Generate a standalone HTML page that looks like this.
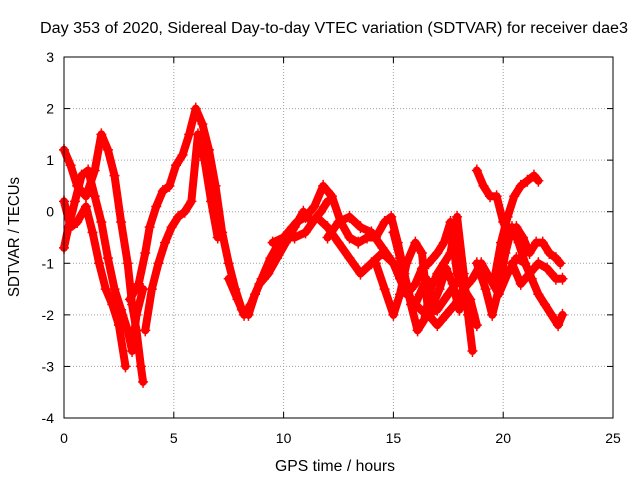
<!DOCTYPE html>
<html><head><meta charset="utf-8"><style>
body{margin:0;background:#fff}
svg{display:block;font-family:"Liberation Sans",sans-serif;font-size:14px}
</style></head><body>
<svg width="640" height="480">
<g id="grid"></g>
<g id="axes"></g>
<g id="marks"></g>
<rect x="64" y="57" width="549" height="361" fill="none" stroke="#000"/>
<text x="334" y="33" text-anchor="middle" font-size="15.5" textLength="588" lengthAdjust="spacingAndGlyphs">Day 353 of 2020, Sidereal Day-to-day VTEC variation (SDTVAR) for receiver dae3</text>
<text x="335" y="471" text-anchor="middle" font-size="15.5" textLength="120" lengthAdjust="spacingAndGlyphs">GPS time / hours</text>
<text x="19" y="237" text-anchor="middle" font-size="15.5" textLength="120" lengthAdjust="spacingAndGlyphs" transform="rotate(-90 19 237)">SDTVAR / TECUs</text>
</svg>
<script>
const xTicks=[0,5,10,15,20,25];
const yTicks=[3,2,1,0,-1,-2,-3,-4];
const traceA=[[0,1.2],[0.3,0.9],[0.6,0.5],[1.0,0.3],[1.4,0.8],[1.7,1.5],[2.0,1.2],[2.3,0.7],[2.6,-0.2],[2.9,-1.0],[3.1,-1.8],[3.3,-2.3],[3.5,-3.0],[3.6,-3.3]];
const traceB=[[0,-0.7],[0.2,-0.3],[0.5,0.2],[0.8,0.7],[1.1,0.8],[1.4,0.3],[1.7,-0.2],[2.0,-0.9],[2.3,-1.5],[2.6,-1.9],[2.9,-2.3],[3.1,-2.7],[3.3,-2.0],[3.6,-1.5]];
const traceC=[[0,0.2],[0.3,-0.3],[0.6,-0.2],[1.0,0.1],[1.3,-0.4],[1.6,-1.0],[1.9,-1.5],[2.2,-1.8],[2.5,-2.2],[2.8,-3.0]];
const traceD=[[3.0,-1.7],[3.4,-1.4],[3.7,-0.8],[3.9,-0.3],[4.2,0.1],[4.5,0.4],[4.8,0.5],[5.1,0.9],[5.4,1.1],[5.7,1.5],[6.0,2.0],[6.3,1.7],[6.6,1.2],[6.9,0.5],[7.2,-0.4],[7.5,-1.0],[7.8,-1.5],[8.1,-1.9],[8.4,-2.0],[8.7,-1.6],[9.0,-1.3],[9.4,-0.9],[9.8,-0.6],[10.2,-0.4],[10.6,-0.2],[11.0,-0.1],[11.4,0.1],[11.8,0.5],[12.2,0.3],[12.6,-0.2],[13.0,-0.5],[13.4,-0.6],[13.8,-0.5],[14.2,-0.5],[14.6,-0.2],[14.9,-0.1],[15.2,-0.6],[15.5,-1.2],[15.8,-1.8],[16.1,-2.3],[16.4,-2.1],[16.7,-1.5],[17.0,-1.2],[17.3,-1.0],[17.6,-0.8],[17.9,-0.1],[18.2,-1.2],[18.4,-2.0],[18.6,-2.7]];
const traceE=[[3.7,-2.3],[4.0,-1.5],[4.3,-1.0],[4.6,-0.6],[4.9,-0.3],[5.2,-0.1],[5.5,0.0],[5.8,0.2],[6.1,1.5],[6.4,1.0],[6.7,0.2],[7.0,-0.5]];
const traceG=[[7.5,-1.3],[7.9,-1.7],[8.2,-2.0],[8.5,-1.8],[8.9,-1.4],[9.3,-1.2],[9.7,-0.9],[10.1,-0.6],[10.5,-0.3],[10.9,0.0],[11.3,-0.2],[11.7,0.0],[12.0,0.2]];
const traceH=[[9.5,-0.6],[10.0,-0.5],[10.5,-0.5],[11.0,-0.4],[11.5,-0.1],[12.0,-0.3],[12.5,-0.6],[13.0,-0.9],[13.5,-1.2],[14.0,-1.0],[14.5,-0.8],[15.0,-1.0],[15.5,-1.5],[16.0,-1.8],[16.5,-2.0],[17.0,-1.9],[17.5,-1.6],[18.0,-1.3]];
const traceI=[[12.0,-0.5],[12.5,-0.2],[13.0,-0.1],[13.5,-0.3],[14.0,-0.4],[14.5,-0.7],[15.0,-1.0],[15.3,-1.3],[15.6,-1.6],[16.0,-1.4],[16.3,-1.1],[16.6,-1.0],[17.0,-0.8],[17.3,-0.6],[17.6,-0.2],[17.9,-1.2],[18.2,-1.5],[18.5,-1.7],[18.8,-2.2]];
const traceJ=[[14.2,-1.0],[14.6,-1.5],[15.0,-2.0],[15.3,-1.6],[15.6,-1.0],[16.0,-0.6],[16.3,-0.8],[16.6,-2.0],[17.0,-2.2],[17.4,-2.0],[17.8,-1.8],[18.2,-1.5],[18.6,-1.3],[19.0,-1.0],[19.4,-1.3],[19.8,-1.6],[20.2,-1.2],[20.6,-0.9],[21.0,-1.0]];
const traceK=[[18.8,0.8],[19.1,0.5],[19.4,0.3],[19.7,0.3],[20.0,-0.2],[20.3,-0.5],[20.6,-0.3],[20.9,-0.5],[21.2,-0.8],[21.5,-0.6],[21.8,-0.6],[22.1,-0.8],[22.4,-0.9],[22.6,-1.0]];
const traceL=[[19.6,-1.3],[19.9,-0.6],[20.2,-0.1],[20.5,0.3],[20.8,0.5],[21.1,0.6],[21.4,0.7],[21.6,0.6]];
const traceM=[[18.8,-1.0],[19.2,-1.5],[19.5,-2.0],[19.8,-1.5],[20.1,-0.8],[20.4,-0.3],[20.7,-0.6],[21.0,-1.0],[21.3,-1.3],[21.6,-1.6],[21.9,-1.8],[22.2,-2.0],[22.5,-2.2],[22.7,-2.0]];
const traceN=[[20.4,-1.0],[20.8,-1.4],[21.2,-1.2],[21.6,-1.0],[22.0,-1.1],[22.4,-1.3],[22.7,-1.3]];
const traceO=[[15.0,-0.4],[15.3,-0.9],[15.6,-1.4],[15.9,-1.9],[16.2,-1.6],[16.5,-1.3],[16.8,-1.8],[17.1,-1.5],[17.4,-1.1],[17.7,-1.4],[18.0,-1.9],[18.3,-1.6]];
const traces=[traceA,traceB,traceC,traceD,traceE,traceG,traceH,traceI,traceJ,traceK,traceL,traceM,traceN,traceO];
const X0=64,X1=613,Y0=418,Y1=57;
const sx=v=>X0+(v-0)/(25-0)*(X1-X0);
const sy=v=>Y0-(v+4)/(3+4)*(Y0-Y1);
const NS='http://www.w3.org/2000/svg';
function mk(tag,attrs,parent){const e=document.createElementNS(NS,tag);for(const k in attrs)e.setAttribute(k,attrs[k]);parent.appendChild(e);return e;}
const grid=document.getElementById('grid'),axes=document.getElementById('axes'),marks=document.getElementById('marks');
xTicks.forEach(t=>{const x=sx(t);
 if(t>0&&t<25){const g=mk('line',{x1:x,x2:x,y1:Y1,y2:Y0,stroke:'#a0a0a0','stroke-dasharray':'1,2'},grid);
 
 }
 mk('line',{x1:x,x2:x,y1:Y0,y2:Y0-6,stroke:'#000'},axes);
 mk('line',{x1:x,x2:x,y1:Y1,y2:Y1+6,stroke:'#000'},axes);
 const l=mk('text',{x:x,y:Y0+25,'text-anchor':'middle'},axes);l.textContent=t;
 
 
});
yTicks.forEach(t=>{const y=sy(t);
 if(t<3&&t>-4){const g=mk('line',{x1:X0,x2:X1,y1:y,y2:y,stroke:'#a0a0a0','stroke-dasharray':'1,2'},grid);
 
 }
 mk('line',{x1:X0,x2:X0+6,y1:y,y2:y,stroke:'#000'},axes);
 mk('line',{x1:X1,x2:X1-6,y1:y,y2:y,stroke:'#000'},axes);
 const l=mk('text',{x:X0-10,y:y+5,'text-anchor':'end'},axes);l.textContent=t;
 
 
});
traces.forEach((tr,i)=>{
 const p=mk('polyline',{points:tr.map(d=>sx(d[0])+','+sy(d[1])).join(' '),fill:'none',stroke:'#f00','stroke-width':8,'stroke-linejoin':'round','stroke-linecap':'round'},marks);
 
 
 tr.forEach(d=>{const x=sx(d[0]),y=sy(d[1]);
  const m=mk('path',{d:`M${x-5},${y}H${x+5}M${x},${y-6}V${y+6}`,stroke:'#f00','stroke-width':1.5},marks);
  
  
 });
});
</script>
</body></html>
